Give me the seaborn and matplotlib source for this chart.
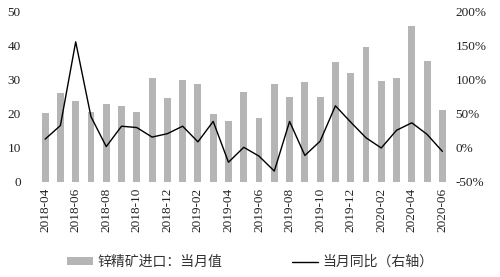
import matplotlib
matplotlib.use("Agg")
import matplotlib.pyplot as plt
import seaborn as sns
import pandas as pd
import numpy as np
from matplotlib.patches import Patch
from matplotlib.lines import Line2D
from matplotlib.ticker import FuncFormatter
from matplotlib import font_manager as fm

months = ["2018-04", "2018-05", "2018-06", "2018-07", "2018-08", "2018-09", "2018-10",
          "2018-11", "2018-12", "2019-01", "2019-02", "2019-03", "2019-04", "2019-05",
          "2019-06", "2019-07", "2019-08", "2019-09", "2019-10", "2019-11", "2019-12",
          "2020-01", "2020-02", "2020-03", "2020-04", "2020-05", "2020-06"]
imports = [20.3, 26.2, 23.7, 20.7, 22.9, 22.3, 20.5, 30.5, 24.6, 30.1, 28.9, 20.1, 17.8,
           26.4, 18.9, 28.9, 25.0, 29.5, 25.0, 35.4, 32.1, 39.6, 29.8, 30.7, 46.0, 35.7, 21.3]
yoy = [13, 33, 156, 46, 2, 32, 30, 16, 21, 32, 9, 39, -21, 1, -12, -34, 39, -11, 10, 62,
       38, 15, 0, 26, 37, 20, -5]
label_bar = "锌精矿进口：当月值"
label_line = "当月同比（右轴）"

sns.set_style("white")
cjk = ["Noto Sans CJK SC", "DejaVu Sans"]
plt.rcParams["font.family"] = "serif"
plt.rcParams["font.serif"] = ["Liberation Serif", "DejaVu Serif"]
serif_fp = fm.FontProperties(family="Liberation Serif", size=9.5)

df = pd.DataFrame({"month": months, "imports": imports, "yoy": yoy, "pos": np.arange(len(months))})

fig = plt.figure(figsize=(5.0, 2.77), dpi=100)
ax = fig.add_axes([0.075, 0.343, 0.825, 0.614])
bar_color = "#b5b5b5"
sns.barplot(data=df, x="month", y="imports", color=bar_color, width=0.45, ax=ax,
            saturation=1, edgecolor="none")
ax.set_xlim(-0.5, len(months) - 0.5)
ax.set_ylim(0, 50)
ax.set_yticks([0, 10, 20, 30, 40, 50])
ax.set_xlabel("")
ax.set_ylabel("")
tick_pos = list(range(0, len(months), 2))
ax.set_xticks(tick_pos)
ax.set_xticklabels([months[i] for i in tick_pos], rotation=90)
ax.tick_params(axis="both", length=0, pad=4, labelcolor="#222222")
ax.tick_params(axis="y", pad=12)
for t in ax.get_xticklabels() + ax.get_yticklabels():
    t.set_fontproperties(serif_fp)

ax2 = ax.twinx()
sns.lineplot(data=df, x="pos", y="yoy", color="black", linewidth=1.0, ax=ax2)
ax2.set_ylim(-50, 200)
ax2.set_yticks([-50, 0, 50, 100, 150, 200])
ax2.yaxis.set_major_formatter(FuncFormatter(lambda v, p: f"{int(v)}%"))
ax2.tick_params(axis="y", length=0, labelcolor="#222222", pad=4)
for t in ax2.get_yticklabels():
    t.set_fontproperties(serif_fp)
ax2.set_ylabel("")
ax2.set_xlim(-0.5, len(months) - 0.5)

for a in (ax, ax2):
    for s in a.spines.values():
        s.set_visible(False)
    a.grid(False)

handles = [Patch(facecolor=bar_color, edgecolor="none", label=label_bar),
           Line2D([0], [0], color="black", linewidth=1.0, label=label_line)]
leg = fig.legend(handles=handles, loc="center", bbox_to_anchor=(0.5, 0.054), ncol=2,
                 frameon=False, prop=fm.FontProperties(family=cjk, size=10), columnspacing=5.0,
                 handlelength=1.9, handletextpad=0.3, handleheight=0.45)
for t in leg.get_texts():
    t.set_color("#333333")

fig.savefig("out.png", dpi=100)
